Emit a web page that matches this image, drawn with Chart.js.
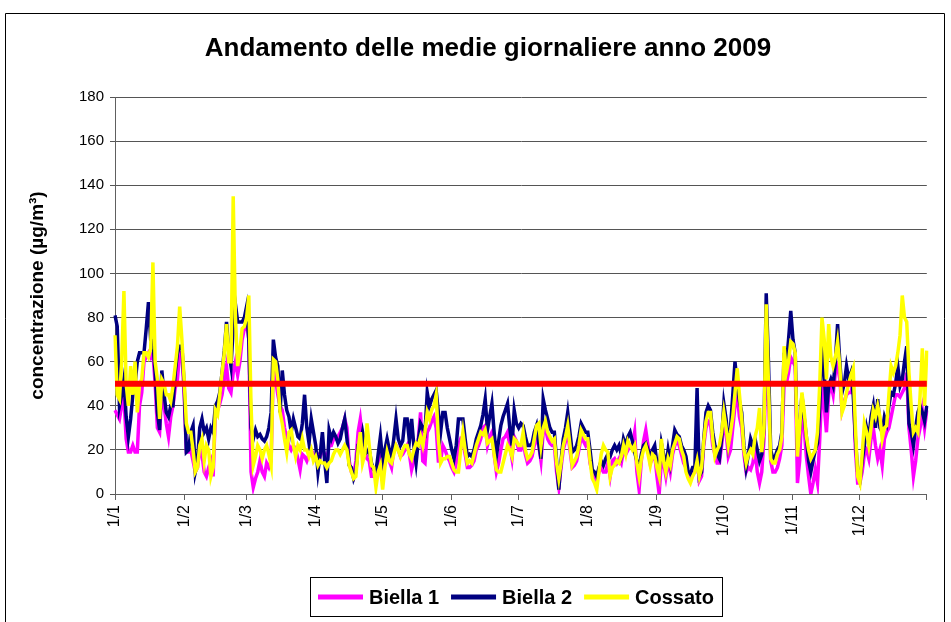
<!DOCTYPE html>
<html>
<head>
<meta charset="utf-8">
<script src="https://cdn.jsdelivr.net/npm/chart.js@4.4.1/dist/chart.umd.min.js"></script>
<style>
html,body{margin:0;padding:0;background:#fff;}
#wrap{position:relative;width:951px;height:622px;}
canvas{display:block;}
</style>
</head>
<body>
<div id="wrap"><canvas id="c" width="951" height="622"></canvas></div>
<script>
const TITLE = 'Andamento delle medie giornaliere anno 2009';
const Y_TITLE = 'concentrazione (µg/m³)';
const YEAR = 2009;
const LIMIT = 50;
const Y_MIN = 0, Y_MAX = 180, Y_STEP = 20;
const SERIES_NAMES = ['Biella 1', 'Biella 2', 'Cossato'];

// Biella 1 (daily means, Jan..Dec)
const biella1 = [
 38,36,34,40,44,25,19,19,22,19,19,40,46,60,62,64,62,64,50,30,28,46,40,32,26,35,40,48,52,64,64,
 45,19,19,20,15,10,12,20,18,10,8,12,15,8,37,38,41,45,52,58,48,46,55,60,54,60,70,75,
 78,70,10,3,7,10,15,10,8,14,12,15,58,52,45,40,38,30,25,22,20,22,20,16,11,18,17,15,18,20,18,
 16,18,17,20,18,15,22,22,25,25,26,28,30,34,30,15,10,8,15,28,34,25,20,16,15,8,8,12,14,20,
 10,15,18,15,12,20,22,20,17,18,20,22,18,11,15,18,25,37,15,14,28,30,33,35,30,15,15,22,20,17,15,
 12,10,14,22,25,24,18,12,12,13,15,20,22,25,30,31,22,26,28,18,10,14,20,25,26,28,22,16,26,24,
 20,20,24,18,14,15,17,22,26,22,15,28,30,25,23,22,22,10,3,12,20,24,28,20,12,13,15,20,26,24,22,
 24,14,10,8,6,10,12,10,10,14,8,15,16,14,16,14,20,18,20,22,22,28,10,2,15,24,29,22,14,16,18,
 8,0,15,14,8,15,10,18,22,24,22,18,14,12,8,7,10,10,20,6,8,22,30,33,32,22,18,14,14,22,
 32,28,17,20,30,40,45,35,30,18,10,12,11,14,20,10,5,10,25,60,45,15,10,10,12,16,22,50,50,55,62,
 60,58,5,15,40,30,17,8,0,5,11,5,25,50,40,28,45,50,45,55,58,52,38,42,45,46,46,50,20,5,
 5,10,18,20,16,25,30,22,16,20,13,25,28,30,35,40,45,45,44,46,48,55,30,20,8,15,25,30,38,30,38
];

// Biella 2
const biella2 = [
 81,76,40,45,52,35,26,34,45,50,60,64,64,64,75,87,70,69,55,37,29,56,45,37,35,40,40,55,64,67,67,
 50,19,20,28,31,10,15,30,34,28,30,25,30,28,40,42,46,55,65,78,65,58,75,86,78,78,78,80,
 85,70,30,25,29,26,27,25,24,26,30,37,70,62,58,37,56,45,38,35,28,34,30,26,25,32,45,30,23,34,28,
 22,10,18,28,15,5,29,25,28,26,23,25,30,34,25,13,12,7,10,22,22,28,22,19,20,14,11,10,18,26,
 15,20,25,20,17,25,34,25,22,24,34,34,24,34,22,14,24,32,30,28,46,40,43,45,47,37,28,37,37,30,25,
 20,16,22,34,34,34,25,17,18,17,20,25,28,31,36,43,29,35,41,28,17,24,31,35,38,41,30,22,38,32,
 30,32,31,26,22,22,23,28,31,23,16,43,38,34,30,28,28,15,2,15,25,30,37,28,19,20,22,26,32,30,28,
 28,20,11,10,8,12,15,13,16,18,17,20,22,20,22,18,25,22,26,28,24,19,15,12,18,22,23,20,17,20,22,
 14,10,23,18,12,20,14,22,29,27,26,22,20,17,10,9,12,12,48,8,10,25,37,40,38,28,22,18,16,25,
 41,34,23,30,45,60,49,42,37,22,12,18,25,22,25,20,15,18,30,91,60,20,16,17,20,22,28,64,58,70,83,
 70,64,20,30,45,35,26,15,10,15,20,23,40,67,55,37,49,52,49,60,77,60,46,50,58,52,55,45,25,10,
 6,15,22,30,25,35,40,30,43,30,28,35,32,40,46,45,50,58,49,52,60,67,32,28,22,30,37,40,37,33,40
];

// Cossato
const cossato = [
 72,45,43,60,92,50,40,58,45,60,37,50,52,64,64,62,66,105,60,52,34,52,50,45,45,42,49,58,67,85,70,
 52,32,28,28,20,10,12,22,25,15,22,20,8,12,38,36,45,55,64,77,60,60,135,80,58,65,75,76,
 80,90,40,13,17,22,20,16,20,22,18,13,61,60,52,37,32,25,19,28,29,22,17,22,20,25,20,20,17,20,15,
 17,13,15,14,14,12,14,15,18,20,20,18,20,22,20,13,10,7,8,20,28,14,18,32,22,13,12,3,10,13,
 2,12,19,15,14,18,22,20,17,20,22,22,18,16,20,23,22,26,22,28,37,34,38,40,45,25,14,16,16,17,17,
 14,11,10,10,20,28,20,14,15,14,18,22,25,28,27,29,23,24,25,18,11,10,10,14,18,22,20,17,25,24,
 22,22,28,20,16,17,19,25,31,32,22,30,33,28,26,24,25,14,7,14,22,26,31,22,13,15,17,22,29,27,25,
 25,15,7,5,2,10,18,22,20,19,8,12,13,15,14,17,22,18,24,22,20,22,14,8,16,20,22,18,13,18,17,
 12,8,25,15,10,16,13,20,23,26,25,20,17,10,7,5,8,10,15,8,12,24,33,37,37,25,17,20,22,28,
 37,30,22,28,35,46,57,45,34,20,14,18,20,18,26,30,39,19,30,86,50,16,14,14,18,20,26,67,55,60,69,
 68,64,17,30,46,38,26,20,16,18,20,28,50,80,70,52,77,62,58,62,69,58,37,40,46,50,54,57,30,8,
 5,18,32,28,22,30,38,35,40,35,25,30,31,45,58,55,58,64,72,90,80,78,55,40,28,30,28,45,66,40,65
];

// Category labels: one per day of the year (d/m)
const dayLabels = [];
const dayIsMonthStart = [];
for (let d = new Date(YEAR, 0, 1); d.getFullYear() === YEAR; d.setDate(d.getDate() + 1)) {
  dayLabels.push(d.getDate() + '/' + (d.getMonth() + 1));
  dayIsMonthStart.push(d.getDate() === 1);
}

const FONT = "'Liberation Sans', Arial, Helvetica, sans-serif";
const COLORS = ['#FF00FF', '#000080', '#FFFF00'];

const limitPlugin = {
  id: 'limitLine',
  afterDatasetsDraw(chart) {
    const {ctx, chartArea, scales} = chart;
    const y = scales.y.getPixelForValue(LIMIT);
    ctx.save();
    ctx.strokeStyle = '#FF0000';
    ctx.lineWidth = 6;
    ctx.beginPath();
    ctx.moveTo(chartArea.left, y);
    ctx.lineTo(chartArea.right, y);
    ctx.stroke();
    ctx.restore();
  }
};

const decorPlugin = {
  id: 'decor',
  afterDraw(chart) {
    const ctx = chart.ctx;
    ctx.save();
    // outer frame
    ctx.strokeStyle = '#000';
    ctx.lineWidth = 1;
    ctx.beginPath();
    ctx.moveTo(5.5, 700);
    ctx.lineTo(5.5, 13.5);
    ctx.lineTo(944.5, 13.5);
    ctx.lineTo(944.5, 700);
    ctx.stroke();
    // title
    ctx.fillStyle = '#000';
    ctx.font = 'bold 26px ' + FONT;
    ctx.textAlign = 'center';
    ctx.textBaseline = 'middle';
    ctx.fillText(TITLE, 488, 49);
    // legend
    const ds = chart.data.datasets;
    ctx.font = 'bold 20px ' + FONT;
    ctx.textAlign = 'left';
    const boxTop = chart.chartArea.bottom + 83;
    ctx.strokeStyle = '#000';
    ctx.strokeRect(310.5, boxTop + 0.5, 412, 39);
    let x = 318;
    const yMid = boxTop + 20;
    ds.forEach((d) => {
      ctx.fillStyle = d.borderColor;
      ctx.fillRect(x, yMid - 2.5, 45, 5);
      ctx.fillStyle = '#000';
      ctx.fillText(d.label, x + 51, yMid + 1);
      x += 51 + ctx.measureText(d.label).width + 12;
    });
    ctx.restore();
  }
};

new Chart(document.getElementById('c').getContext('2d'), {
  type: 'line',
  data: {
    labels: dayLabels,
    datasets: [
      {label: SERIES_NAMES[0], data: biella1, borderColor: COLORS[0], backgroundColor: COLORS[0], borderWidth: 3.5, pointRadius: 0, tension: 0, order: 3},
      {label: SERIES_NAMES[1], data: biella2, borderColor: COLORS[1], backgroundColor: COLORS[1], borderWidth: 3.5, pointRadius: 0, tension: 0, order: 2},
      {label: SERIES_NAMES[2], data: cossato, borderColor: COLORS[2], backgroundColor: COLORS[2], borderWidth: 3.5, pointRadius: 0, tension: 0, order: 1}
    ]
  },
  options: {
    responsive: false,
    animation: false,
    events: [],
    layout: {padding: {left: 26, right: 21, top: 97, bottom: 68}},
    plugins: {
      legend: {display: false},
      tooltip: {enabled: false},
      title: {display: false}
    },
    scales: {
      x: {
        type: 'category',
        grid: {drawOnChartArea: false, drawTicks: true, tickLength: 6, color: '#606060'},
        border: {color: '#606060', width: 1},
        ticks: {
          autoSkip: false, maxRotation: 90, minRotation: 90, padding: 5,
          color: '#000', font: {family: FONT, size: 16},
          callback: function(v, i) {
            if (dayIsMonthStart[i]) return dayLabels[i];
            if (i === dayLabels.length - 1) return '';
            return null;
          }
        },
        afterFit: (s) => { s.height = 60; }
      },
      y: {
        min: Y_MIN, max: Y_MAX,
        grid: {color: '#555', tickLength: 5},
        border: {color: '#606060', width: 1},
        ticks: {stepSize: Y_STEP, padding: 6, color: '#000', font: {family: FONT, size: 15}},
        title: {display: true, text: Y_TITLE, color: '#000', font: {family: FONT, size: 19, weight: 'bold'}, padding: {top: 0, bottom: 0}},
        afterFit: (s) => { s.width = 89; }
      }
    }
  },
  plugins: [limitPlugin, decorPlugin]
});
</script>
</body>
</html>
